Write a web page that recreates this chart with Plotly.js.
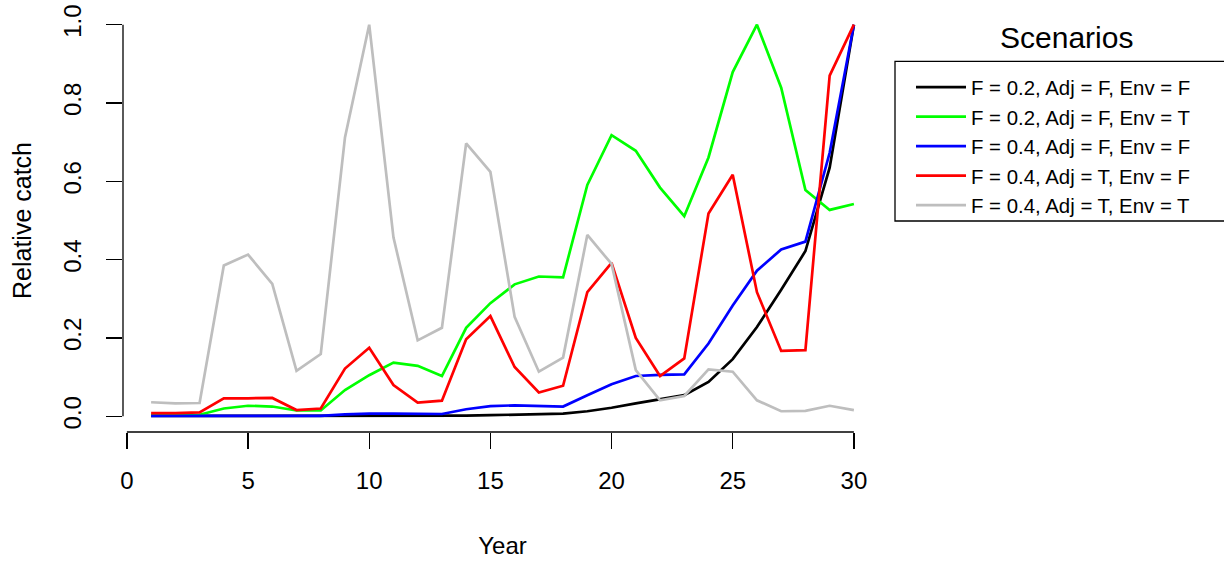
<!DOCTYPE html>
<html>
<head>
<meta charset="utf-8">
<script src="https://cdn.plot.ly/plotly-3.0.1.min.js"></script>
<style>html,body{margin:0;padding:0;background:#fff;}#chart{width:1224px;height:562px;}</style>
</head>
<body>
<div id="chart"></div>
<script>
const years = Array.from({length: 30}, (_, i) => i + 1);

const seriesNames = [
  "F = 0.2, Adj = F, Env = F",
  "F = 0.2, Adj = F, Env = T",
  "F = 0.4, Adj = F, Env = F",
  "F = 0.4, Adj = T, Env = F",
  "F = 0.4, Adj = T, Env = T"
];

const blackF02 = [0.001, 0.001, 0.001, 0.001, 0.001, 0.001, 0.001, 0.001, 0.001, 0.001,
                  0.001, 0.001, 0.001, 0.002, 0.003, 0.004, 0.005, 0.007, 0.013, 0.022,
                  0.033, 0.044, 0.054, 0.088, 0.146, 0.228, 0.323, 0.422, 0.635, 1.0];
const greenF02Env = [0.003, 0.003, 0.004, 0.020, 0.027, 0.025, 0.015, 0.015, 0.067, 0.105,
                     0.137, 0.129, 0.103, 0.226, 0.289, 0.337, 0.357, 0.355, 0.591, 0.718,
                     0.678, 0.584, 0.511, 0.661, 0.879, 1.0, 0.839, 0.578, 0.527, 0.542];
const blueF04 = [0.001, 0.001, 0.001, 0.001, 0.001, 0.001, 0.001, 0.001, 0.005, 0.007,
                 0.007, 0.006, 0.006, 0.018, 0.026, 0.028, 0.027, 0.025, 0.054, 0.082,
                 0.103, 0.106, 0.107, 0.186, 0.283, 0.372, 0.426, 0.446, 0.673, 1.0];
const redF04Adj = [0.008, 0.008, 0.010, 0.046, 0.046, 0.047, 0.016, 0.020, 0.122, 0.175,
                   0.080, 0.035, 0.040, 0.197, 0.256, 0.126, 0.061, 0.078, 0.317, 0.392,
                   0.200, 0.103, 0.148, 0.518, 0.617, 0.317, 0.167, 0.169, 0.870, 1.0];
const grayF04AdjEnv = [0.036, 0.033, 0.034, 0.385, 0.413, 0.338, 0.116, 0.159, 0.712, 1.0,
                       0.457, 0.194, 0.226, 0.697, 0.624, 0.254, 0.114, 0.150, 0.463, 0.389,
                       0.118, 0.041, 0.052, 0.120, 0.114, 0.041, 0.013, 0.014, 0.027, 0.016];

const seriesValues = [blackF02, greenF02Env, blueF04, redF04Adj, grayF04AdjEnv];
const seriesColors = ["#000000", "#00FF00", "#0000FF", "#FF0000", "#BEBEBE"];

const xTicks = [0, 5, 10, 15, 20, 25, 30];
const yTicks = [0, 0.2, 0.4, 0.6, 0.8, 1.0];
const yTickText = ["0.0", "0.2", "0.4", "0.6", "0.8", "1.0"];

const FONT = "Liberation Sans, Arial, Helvetica, sans-serif";

// plot region in pixels (R-style 4% extended axes)
const W = 1224, H = 562;
const L = 123, R = 882, T = 8.6, B = 432.4;
const pw = R - L, ph = B - T;
const px = v => (v - L) / pw;
const py = v => (B - v) / ph;

const traces = seriesValues.map((vals, i) => ({
  type: "scatter",
  mode: "lines",
  x: years,
  y: vals,
  name: seriesNames[i],
  line: {color: seriesColors[i], width: 2.7},
  hoverinfo: "skip"
}));

const layout = {
  width: W, height: H,
  margin: {l: L, r: W - R, t: T, b: H - B, pad: 0},
  paper_bgcolor: "#ffffff",
  plot_bgcolor: "#ffffff",
  font: {family: FONT, color: "#000000"},
  showlegend: true,
  xaxis: {
    range: [-0.16, 31.16],
    tickmode: "array",
    tickvals: xTicks,
    ticktext: xTicks.map(String),
    ticks: "outside", ticklen: 16, tickwidth: 1.3, tickcolor: "#000000",
    tickfont: {size: 24, family: FONT, color: "#000000"},
    ticklabelstandoff: 11,
    showgrid: false, zeroline: false, showline: false,
    automargin: false,
    title: {text: "Year", font: {size: 24, family: FONT, color: "#000000"}, standoff: 44}
  },
  yaxis: {
    range: [-0.04, 1.04],
    tickmode: "array",
    tickvals: yTicks,
    ticktext: yTickText,
    tickangle: -90,
    ticks: "outside", ticklen: 16, tickwidth: 1.3, tickcolor: "#000000",
    tickfont: {size: 24, family: FONT, color: "#000000"},
    ticklabelstandoff: 15,
    showgrid: false, zeroline: false, showline: false,
    automargin: false,
    title: {text: "Relative catch", font: {size: 25, family: FONT, color: "#000000"}, standoff: 20}
  },
  shapes: [
    {type: "line", xref: "x", yref: "paper", x0: xTicks[0], x1: xTicks[xTicks.length - 1], y0: 0, y1: 0,
     line: {color: "#000000", width: 1.3}},
    {type: "line", xref: "paper", yref: "y", x0: 0, x1: 0, y0: yTicks[0], y1: yTicks[yTicks.length - 1],
     line: {color: "#000000", width: 1.3}},
    {type: "rect", xref: "paper", yref: "paper", x0: px(895), x1: px(1245), y0: py(221), y1: py(61),
     line: {color: "#000000", width: 1.3}, fillcolor: "rgba(0,0,0,0)"}
  ],
  legend: {
    x: px(911), y: py(67), xanchor: "left", yanchor: "top",
    bgcolor: "rgba(0,0,0,0)", borderwidth: 0,
    font: {size: 20.4, family: FONT, color: "#000000"},
    itemwidth: 50,
    tracegroupgap: 0
  },
  annotations: [
    {text: "Scenarios", xref: "paper", yref: "paper", x: px(1066), y: py(37),
     xanchor: "center", yanchor: "middle", showarrow: false,
     font: {size: 30, family: FONT, color: "#000000"}}
  ]
};

Plotly.newPlot("chart", traces, layout, {displayModeBar: false, staticPlot: true});
</script>
</body>
</html>
